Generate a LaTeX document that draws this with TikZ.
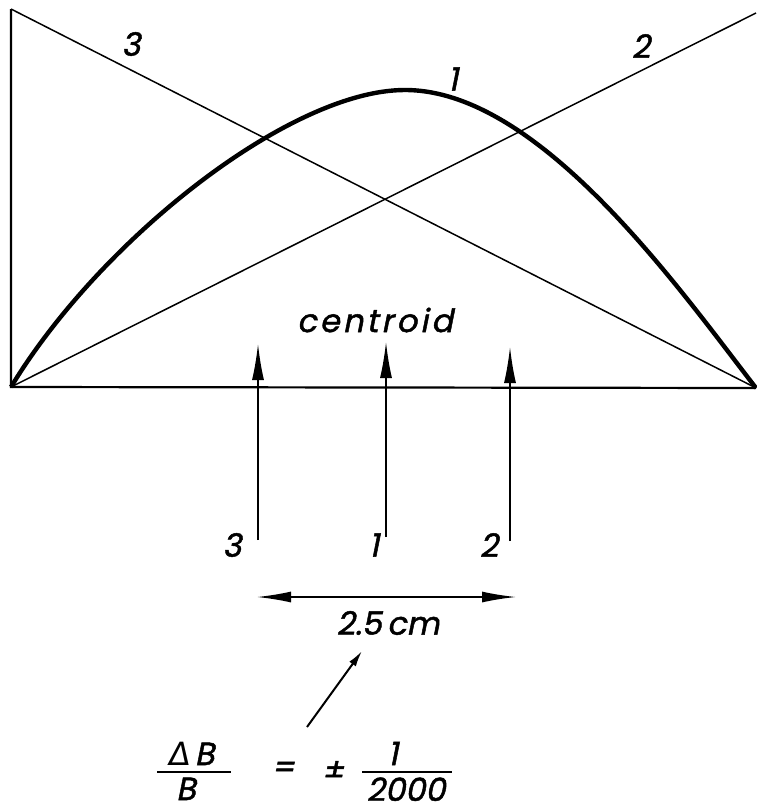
\documentclass[tikz,border=0pt]{standalone}
\usepackage{fontspec}
\usetikzlibrary{arrows.meta}
\newfontfamily\iso{Poppins}[FakeSlant=0.2,FakeBold=1.5]
\newfontfamily\isog{DejaVu Sans}[FakeSlant=0.15]
\begin{document}
\begin{tikzpicture}[x=1pt,y=-1pt,
  thin line/.style={line width=1.5pt},
  axis/.style={line width=2.2pt},
  curve/.style={line width=4.4pt,line join=round},
  lbl/.style={font=\iso\fontsize{32}{32}\selectfont,inner sep=0pt},
  bigup/.style={line width=1.5pt,-{Latex[length=36pt,width=12pt]}},
  dim/.style={line width=1.6pt,{Latex[length=34pt,width=11pt]}-{Latex[length=34pt,width=11pt]}},
  pointer/.style={line width=2pt,-{Latex[length=16pt,width=8pt]}}]
\useasboundingbox (0,0) rectangle (756,811);
% vertices
\coordinate (TL) at (11,9);
\coordinate (BL) at (11,387);
\coordinate (BR) at (756,388);
\coordinate (TR) at (756,13);
\coordinate (PK) at (405,90);
% frame and lines
\draw[axis] (TL) -- (BL) -- (BR);
\draw[thin line] (TL) -- (BR);
\draw[thin line] (BL) -- (TR);
% curve 1
\draw[curve] (BL) .. controls (100,240) and (290,90) .. (PK)
             .. controls (540,90) and (680,290) .. (BR);
% top labels
\node[lbl] (l3) at (131,44) {3};
\node[lbl] (l2) at (641,46) {2};
\node[lbl] (l1) at (453,79) {1};
\node[lbl,font=\iso\fontsize{32}{32}\selectfont\addfontfeature{LetterSpace=10}] (cen) at (375,320) {centroid};
% arrows
\coordinate (a3b) at (258,540); \coordinate (a3t) at (258,344);
\coordinate (a1b) at (386,537); \coordinate (a1t) at (386,342);
\coordinate (a2b) at (510,541); \coordinate (a2t) at (510,347);
\draw[bigup] (a3b) -- (a3t);
\draw[bigup] (a1b) -- (a1t);
\draw[bigup] (a2b) -- (a2t);
\node[lbl] (b3) at (232,545) {3};
\node[lbl] (b1) at (374,545) {1};
\node[lbl] (b2) at (489,545) {2};
% dimension
\coordinate (dl) at (257,597); \coordinate (dr) at (516,597);
\draw[dim] (dl) -- (dr);
\node[lbl] (dimtxt) at (388,623) {2.5\,cm};
% pointer
\coordinate (ps) at (307,727); \coordinate (pe) at (362,651);
\draw[pointer] (ps) -- (pe);
% formula
\coordinate (bar1l) at (157,772); \coordinate (bar1r) at (231,772);
\coordinate (bar2l) at (362,772); \coordinate (bar2r) at (452,772);
\draw[line width=2.2pt] (bar1l) -- (bar1r);
\draw[line width=2.2pt] (bar2l) -- (bar2r);
\node[lbl,anchor=base] (num) at (191,765) {{\isog Δ}\,B};
\node[lbl,anchor=base] (den) at (186,800) {B};
\node[lbl] (eq) at (283,770) {=};
\node[lbl] (pm) at (333,771) {±};
\node[lbl,anchor=base] (one) at (393,765) {1};
\node[lbl,anchor=base] (twok) at (406,801) {2000};
\end{tikzpicture}
\end{document}
